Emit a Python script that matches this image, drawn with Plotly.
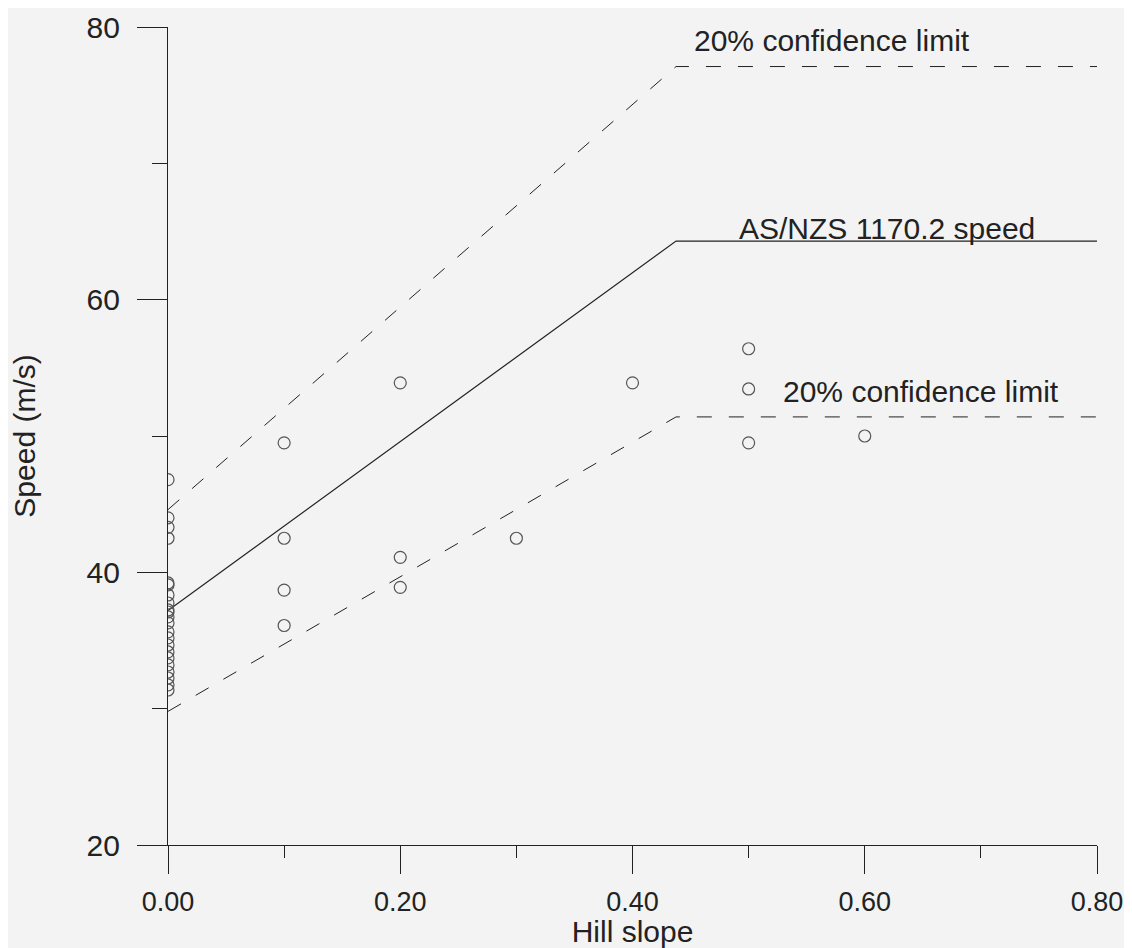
import plotly.graph_objects as go

# ---- data ----
# observed speeds (hill slope, speed m/s)
obs_slope = [0.0]*22 + [0.1, 0.1, 0.1, 0.1,
                        0.2, 0.2, 0.2,
                        0.3,
                        0.4,
                        0.5, 0.5, 0.5,
                        0.6]
obs_speed = [46.8, 44.0, 43.3, 42.5,
             39.22, 39.08, 38.34, 37.75, 37.24, 37.09, 36.73, 36.29, 35.63,
             35.19, 34.67, 34.16, 33.72, 33.21, 32.69, 32.25, 31.74, 31.37,
             49.5, 42.5, 38.7, 36.1,
             53.9, 41.1, 38.9,
             42.5,
             53.9,
             56.4, 53.45, 49.5,
             50.0]

# AS/NZS 1170.2 speed and 20% confidence limits (breakpoints)
line_slope = [0.0, 0.4375, 0.8]
code_speed = [37.2, 64.3, 64.3]
upper_speed = [44.6, 77.1, 77.1]
lower_speed = [29.8, 51.4, 51.4]

x_ticks = [0.0, 0.2, 0.4, 0.6, 0.8]
x_ticklabels = ["0.00", "0.20", "0.40", "0.60", "0.80"]
y_ticks = [20, 40, 60, 80]

labels = ["20% confidence limit", "AS/NZS 1170.2 speed", "20% confidence limit"]
label_x = [0.451, 0.490, 0.528]
label_y = [79.0, 65.2, 53.3]

FONT = "Liberation Sans, Arial, sans-serif"
INK = "#222222"

fig = go.Figure()
fig.add_trace(go.Scatter(x=line_slope, y=upper_speed, mode="lines",
                         line=dict(color=INK, width=1, dash="15px,17px"),
                         showlegend=False, hoverinfo="skip"))
fig.add_trace(go.Scatter(x=line_slope, y=code_speed, mode="lines",
                         line=dict(color=INK, width=1.2),
                         showlegend=False, hoverinfo="skip"))
fig.add_trace(go.Scatter(x=line_slope, y=lower_speed, mode="lines",
                         line=dict(color=INK, width=1, dash="15px,17px"),
                         showlegend=False, hoverinfo="skip"))
fig.add_trace(go.Scatter(x=obs_slope, y=obs_speed, mode="markers",
                         marker=dict(symbol="circle-open", size=12,
                                     color="#555555", line=dict(width=1.2)),
                         showlegend=False))

for t, lx, ly in zip(labels, label_x, label_y):
    fig.add_annotation(x=lx, y=ly, text=t, showarrow=False,
                       xanchor="left", yanchor="middle",
                       font=dict(family=FONT, size=30, color=INK))

fig.update_xaxes(range=[0, 0.8], tickvals=x_ticks, ticktext=x_ticklabels,
                 ticks="outside", ticklen=28, tickwidth=1, tickcolor=INK,
                 minor=dict(dtick=0.1, tick0=0, ticks="outside", ticklen=12,
                            tickwidth=1, tickcolor=INK, showgrid=False),
                 showline=True, linecolor=INK, linewidth=1.2,
                 showgrid=False, zeroline=False,
                 tickfont=dict(family=FONT, size=27, color=INK),
                 ticklabelstandoff=4,
                 title=dict(text="Hill slope", standoff=29,
                            font=dict(family=FONT, size=30, color=INK)))
fig.update_yaxes(range=[20, 80], tickvals=y_ticks,
                 ticks="outside", ticklen=30, tickwidth=1, tickcolor=INK,
                 minor=dict(dtick=10, tick0=0, ticks="outside", ticklen=15,
                            tickwidth=1, tickcolor=INK, showgrid=False),
                 showline=True, linecolor=INK, linewidth=1.2,
                 showgrid=False, zeroline=False,
                 tickfont=dict(family=FONT, size=30, color=INK),
                 ticklabelstandoff=11,
                 title=dict(text="Speed (m/s)", standoff=42,
                            font=dict(family=FONT, size=30, color=INK)))

fig.update_layout(width=1124, height=940,
                  margin=dict(l=160, r=35, t=19, b=103, autoexpand=False),
                  paper_bgcolor="#f3f3f3", plot_bgcolor="#f3f3f3",
                  showlegend=False)

fig.write_html("out.html")
